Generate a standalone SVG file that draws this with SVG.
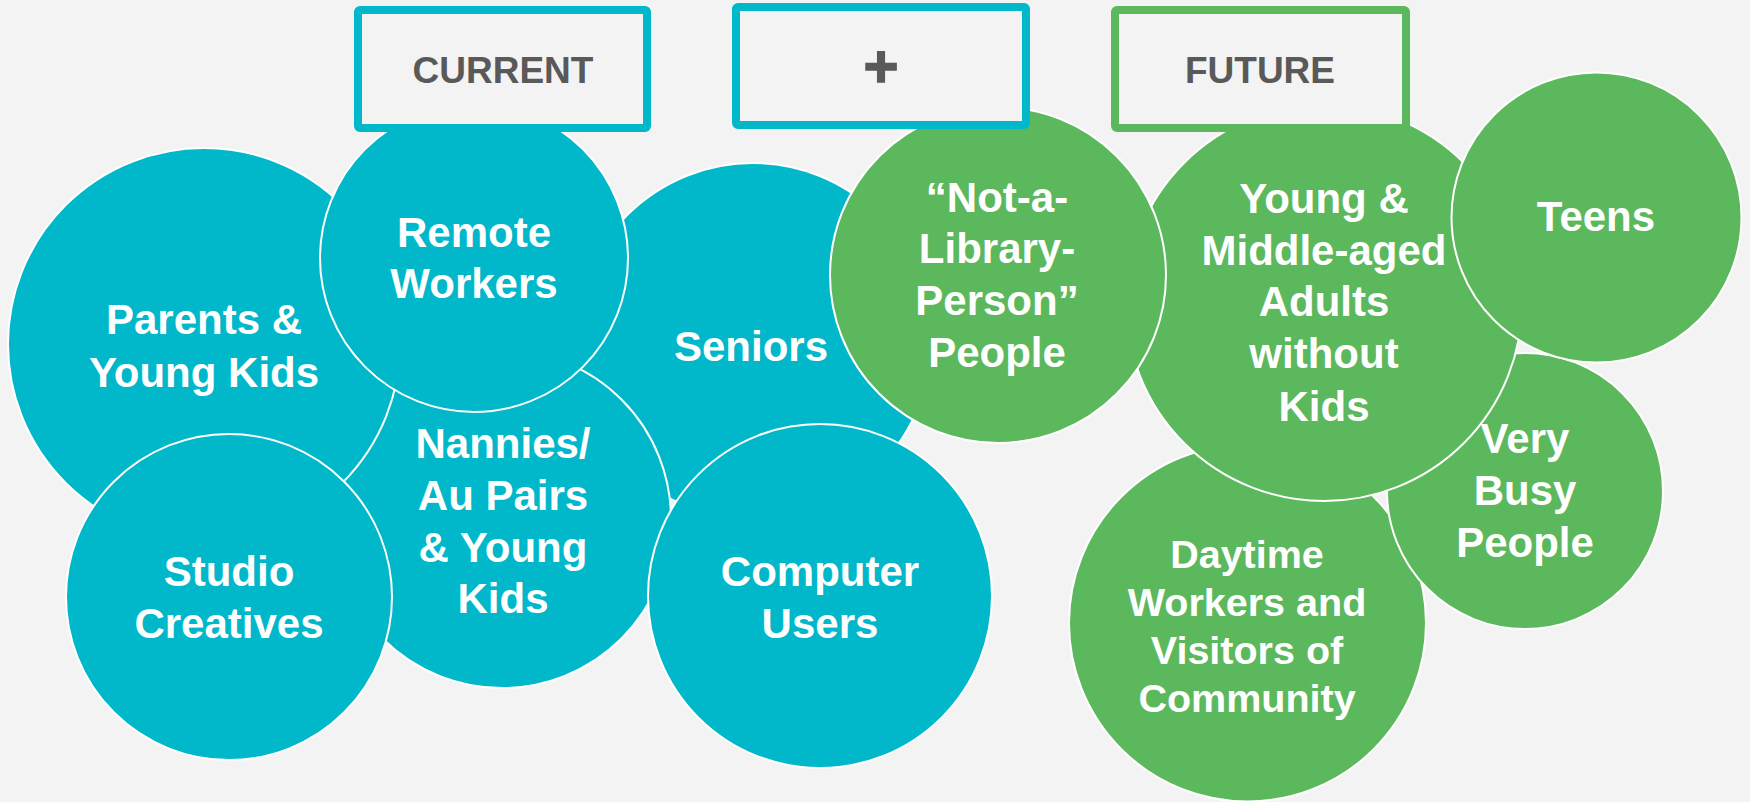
<svg xmlns="http://www.w3.org/2000/svg" width="1750" height="802" viewBox="0 0 1750 802">
<style>
.bg{fill:#F3F3F3}
.teal{fill:#00B8CA;stroke:#FFFFFF;stroke-width:2}
.green{fill:#5CB85C;stroke:#FFFFFF;stroke-width:2}
.lbl{font-family:"Liberation Sans",Arial,sans-serif;font-weight:bold;font-size:42px;fill:#FFFFFF;text-anchor:middle}
.sm{font-size:39.5px}
.box{fill:#F3F3F3;stroke-width:8}
.bt{stroke:#00B8CA}
.bgr{stroke:#5CB85C}
.hdr{font-family:"Liberation Sans",Arial,sans-serif;font-weight:bold;font-size:37px;fill:#595959;text-anchor:middle}
</style>
<rect class="bg" x="0" y="0" width="1750" height="802"/>
<g id="connectors"></g>
<g id="seniors"><circle class="teal" cx="753" cy="341" r="178"/><text class="lbl" x="751" y="361">Seniors</text></g>
<g id="nannies"><circle class="teal" cx="502" cy="519" r="169"/><text class="lbl" x="503" y="458">Nannies/</text><text class="lbl" x="503" y="510">Au Pairs</text><text class="lbl" x="503" y="562">&amp; Young</text><text class="lbl" x="503" y="613">Kids</text></g>
<g id="parents"><circle class="teal" cx="204" cy="344" r="196"/><text class="lbl" x="204" y="334">Parents &amp;</text><text class="lbl" x="204" y="387">Young Kids</text></g>
<g id="remote"><circle class="teal" cx="474" cy="258" r="154"/><text class="lbl" x="474" y="247">Remote</text><text class="lbl" x="474" y="298">Workers</text></g>
<g id="studio"><circle class="teal" cx="229" cy="597" r="163"/><text class="lbl" x="229" y="586">Studio</text><text class="lbl" x="229" y="638">Creatives</text></g>
<g id="computer"><circle class="teal" cx="820" cy="596" r="172"/><text class="lbl" x="820" y="586">Computer</text><text class="lbl" x="820" y="638">Users</text></g>
<g id="daytime"><circle class="green" cx="1247.5" cy="623" r="178.5"/><text class="lbl sm" x="1247" y="568">Daytime</text><text class="lbl sm" x="1247" y="616">Workers and</text><text class="lbl sm" x="1247" y="664">Visitors of</text><text class="lbl sm" x="1247" y="712">Community</text></g>
<g id="verybusy"><circle class="green" cx="1525" cy="491" r="138"/><text class="lbl" x="1525" y="453">Very</text><text class="lbl" x="1525" y="505">Busy</text><text class="lbl" x="1525" y="557">People</text></g>
<g id="young"><circle class="green" cx="1324" cy="303" r="198"/><text class="lbl" x="1324" y="213">Young &amp;</text><text class="lbl" x="1324" y="265">Middle-aged</text><text class="lbl" x="1324" y="316">Adults</text><text class="lbl" x="1324" y="368">without</text><text class="lbl" x="1324" y="421">Kids</text></g>
<g id="teens"><circle class="green" cx="1596.5" cy="217.5" r="145"/><text class="lbl" x="1596" y="231">Teens</text></g>
<g id="notalibrary"><circle class="green" cx="998" cy="275" r="168"/><text class="lbl" x="997" y="212">“Not-a-</text><text class="lbl" x="997" y="263">Library-</text><text class="lbl" x="997" y="315">Person”</text><text class="lbl" x="997" y="367">People</text></g>
<g id="current"><rect class="box bt" x="358" y="10" width="289" height="118" rx="2"/><text class="hdr" x="503" y="83">CURRENT</text></g>
<g id="plus"><rect class="box bt" x="736" y="7" width="290" height="118" rx="2"/><text class="hdr" x="881" y="87" style="font-size:60px;stroke:#595959;stroke-width:1.5">+</text></g>
<g id="future"><rect class="box bgr" x="1115" y="10" width="291" height="118" rx="2"/><text class="hdr" x="1260" y="83">FUTURE</text></g>
</svg>
